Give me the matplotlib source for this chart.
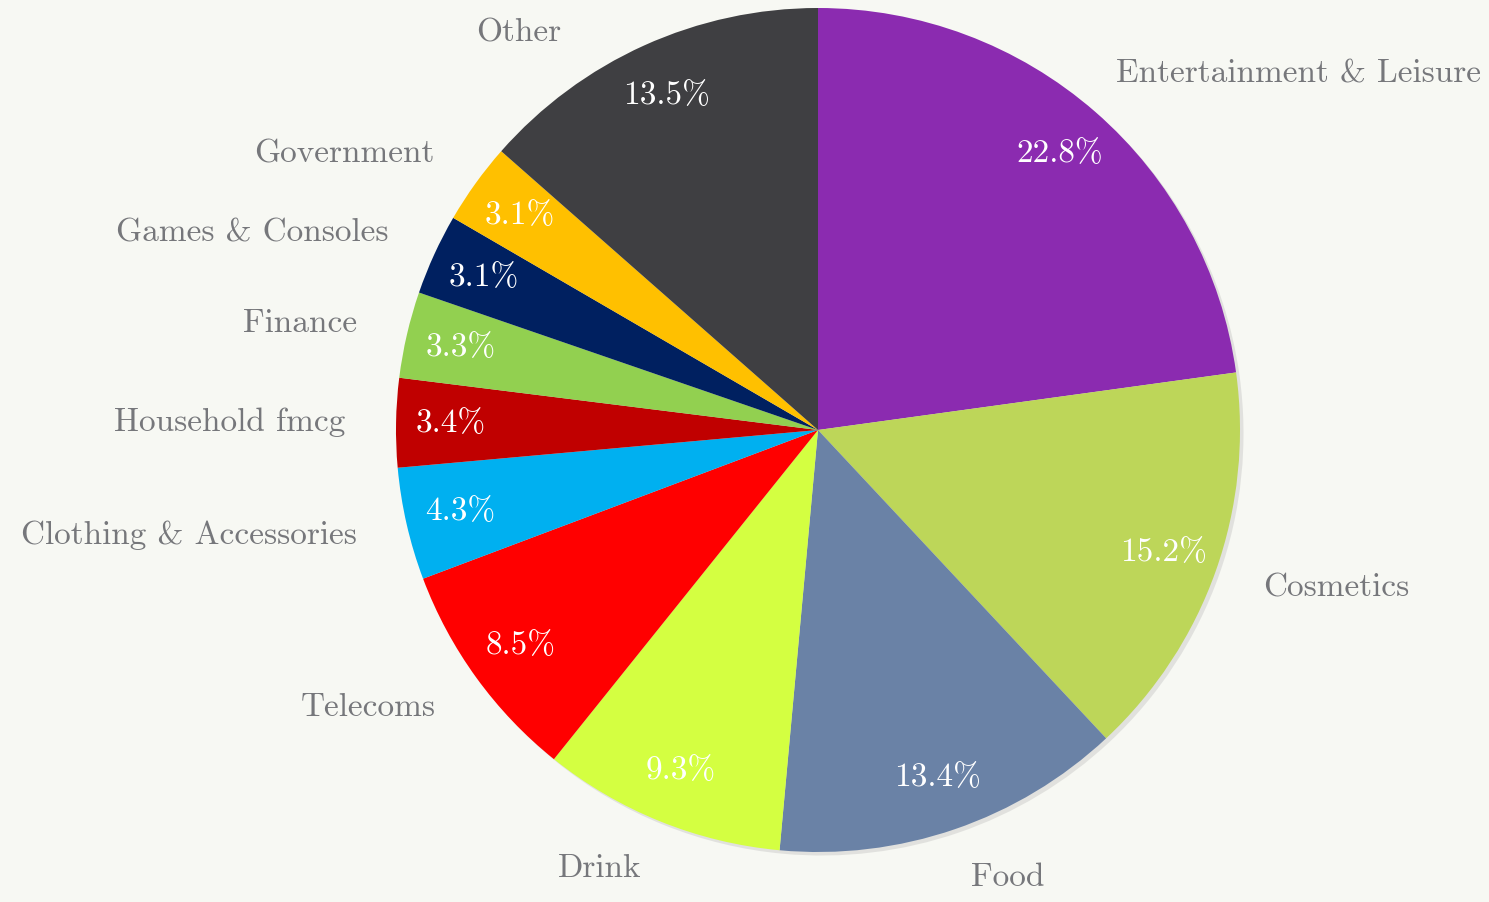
import matplotlib.pyplot as plt
import numpy as np

categories = [
    "Entertainment & Leisure", "Cosmetics", "Food", "Drink", "Telecoms",
    "Clothing & Accessories", "Household fmcg", "Finance", "Games & Consoles",
    "Government", "Other",
]
shares = [22.8, 15.2, 13.4, 9.3, 8.5, 4.3, 3.4, 3.3, 3.1, 3.1, 13.5]
colors = [
    "#8B2BB0", "#BDD659", "#6A82A6", "#D4FF41", "#FF0000", "#00B0F0",
    "#C00000", "#92D050", "#002060", "#FFC000", "#3F3F42",
]

plt.rcParams["font.family"] = ["cmr10", "DejaVu Serif"]
bg = "#F7F8F3"
label_dist = 1.12
label_ymax = 0.94  # labels pushed around the circle if they would leave the canvas

fig = plt.figure(figsize=(14.89, 9.02), dpi=100, facecolor=bg)
# pie centre at (818, 430) px, radius ~422 px
ax = fig.add_axes([(818 - 422) / 1489, (472 - 422) / 902, 844 / 1489, 844 / 902])
ax.set_facecolor(bg)

wedges, texts, autotexts = ax.pie(
    shares,
    labels=categories,
    colors=colors,
    startangle=90,
    counterclock=False,
    autopct="%.1f%%",
    pctdistance=0.87,
    labeldistance=label_dist,
    wedgeprops=dict(linewidth=0),
    shadow=dict(ox=0.006, oy=-0.006, facecolor="#a0a0a0", edgecolor="none", alpha=0.25),
    textprops=dict(fontsize=24),
)
for t in autotexts:
    t.set_color("white")

ax.set_xlim(-1, 1)
ax.set_ylim(-1, 1)
ax.set_aspect("equal")

# keep outer labels inside the canvas
fig.canvas.draw()
renderer = fig.canvas.get_renderer()
to_data = ax.transData.inverted()
for t in texts:
    t.set_color("#76777B")
    x, y = t.get_position()
    if y > label_ymax:
        x, y = np.sign(x) * np.sqrt(label_dist**2 - label_ymax**2), label_ymax
        t.set_position((x, y))
    bb = t.get_window_extent(renderer)
    overflow = bb.x1 - (fig.bbox.width - 8)
    if overflow > 0:
        dx = to_data.transform((bb.x1, 0))[0] - to_data.transform((bb.x1 - overflow, 0))[0]
        t.set_position((x - dx, y))

plt.savefig("out.png", dpi=100, facecolor=bg)
